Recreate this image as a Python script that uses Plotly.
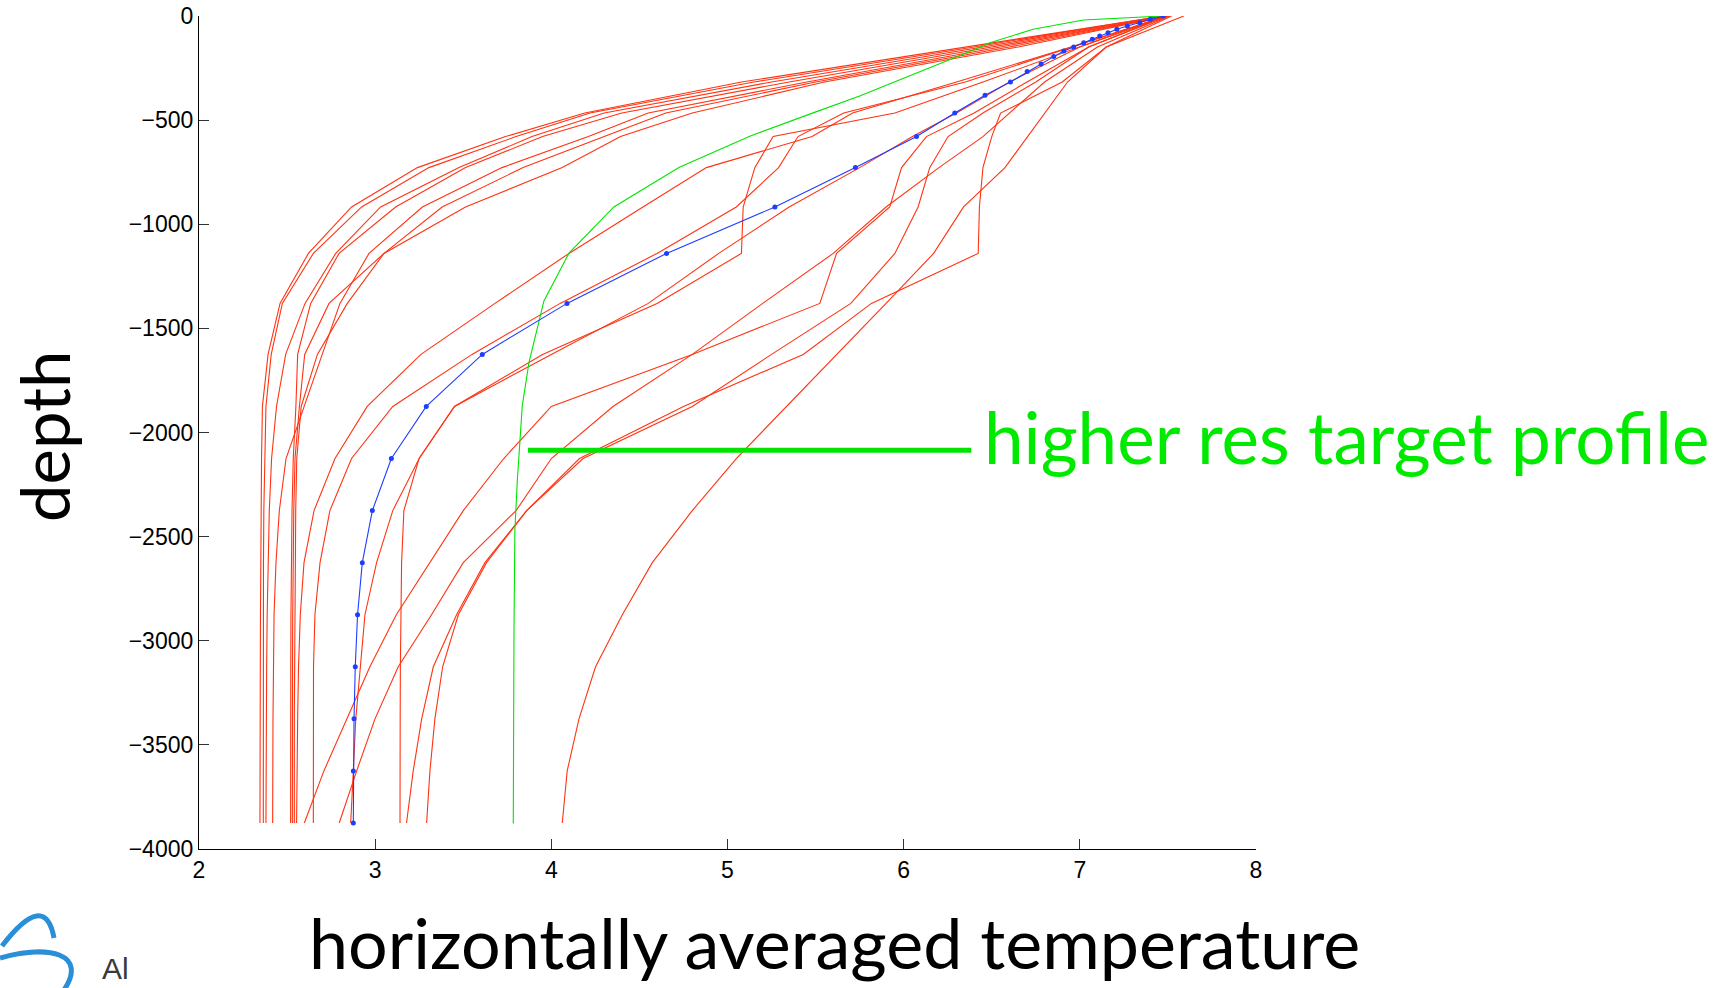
import plotly.graph_objects as go

# ---------------- data ----------------
# depth levels (m) on which the coarse (red) profiles are read
red_depths = [0, -149, -317, -466, -579, -728, -917, -1140, -1380, -1625,
              -1875, -2125, -2375, -2625, -2875, -3125, -3375, -3625, -3875]

# cold profiles (top cluster, ending far left)
red_a1 = [7.48, 6.35, 5.08, 4.19, 3.74, 3.24, 2.866, 2.621, 2.460, 2.392, 2.360, 2.355, 2.352, 2.350, 2.349, 2.348, 2.347, 2.346, 2.346]
red_a2 = [7.47, 6.40, 5.15, 4.22, 3.80, 3.305, 2.923, 2.649, 2.473, 2.410, 2.380, 2.372, 2.368, 2.366, 2.366, 2.365, 2.365, 2.365, 2.365]
red_a3 = [7.48, 6.45, 5.25, 4.30, 3.89, 3.476, 3.031, 2.776, 2.602, 2.492, 2.440, 2.412, 2.399, 2.392, 2.387, 2.384, 2.382, 2.381, 2.380]
red_a4 = [7.49, 6.55, 5.45, 4.55, 4.21, 3.72, 3.268, 2.965, 2.800, 2.700, 2.600, 2.494, 2.456, 2.437, 2.426, 2.422, 2.420, 2.419, 2.418]
red_a5 = [7.49, 6.50, 5.35, 4.40, 3.95, 3.513, 3.116, 2.795, 2.634, 2.560, 2.550, 2.535, 2.528, 2.524, 2.522, 2.521, 2.520, 2.520, 2.520]
red_a6 = [7.50, 6.60, 5.50, 4.65, 4.30, 3.84, 3.38, 3.050, 2.738, 2.600, 2.570, 2.545, 2.538, 2.534, 2.532, 2.531, 2.530, 2.530, 2.530]
red_a7 = [7.50, 6.65, 5.55, 4.80, 4.393, 4.062, 3.513, 3.050, 2.842, 2.672, 2.580, 2.555, 2.549, 2.546, 2.544, 2.542, 2.541, 2.541, 2.541]
# mid / warm profiles
red_b1 = [7.50, 6.95, 6.30, 5.71, 5.48, 4.88, 4.52, 4.10, 3.68, 3.26, 2.955, 2.772, 2.653, 2.596, 2.575, 2.565, 2.560, 2.556, 2.554]
red_b2 = [7.49, 6.95, 6.35, 5.66, 5.40, 5.29, 5.05, 4.60, 4.05, 3.55, 3.10, 2.866, 2.743, 2.687, 2.658, 2.650, 2.649, 2.649, 2.649]
red_b3 = [7.48, 7.00, 6.45, 5.95, 5.259, 5.155, 5.089, 5.079, 4.60, 3.95, 3.45, 3.249, 3.163, 3.150, 3.145, 3.143, 3.142, 3.141, 3.141]
red_b4 = [7.49, 7.05, 6.70, 6.40, 6.129, 5.988, 5.921, 5.619, 5.524, 4.80, 4.00, 3.73, 3.50, 3.31, 3.12, 2.97, 2.838, 2.709, 2.598]
red_b5 = [7.50, 7.00, 6.60, 6.30, 6.05, 5.75, 5.35, 4.95, 4.55, 4.00, 3.45, 3.25, 3.10, 3.008, 2.942, 2.914, 2.890, 2.876, 2.861]
red_b6 = [7.51, 7.10, 6.80, 6.60, 6.45, 6.20, 5.90, 5.60, 5.20, 4.80, 4.35, 4.00, 3.80, 3.50, 3.32, 3.131, 2.999, 2.895, 2.796]
red_b7 = [7.50, 7.05, 6.75, 6.45, 6.252, 6.148, 6.082, 5.95, 5.70, 5.25, 4.80, 4.18, 3.86, 3.623, 3.462, 3.330, 3.264, 3.216, 3.178]
red_b8 = [7.52, 7.15, 6.90, 6.55, 6.50, 6.45, 6.43, 6.423, 5.817, 5.43, 4.75, 4.16, 3.86, 3.632, 3.472, 3.383, 3.339, 3.311, 3.292]
red_b9 = [7.59, 7.15, 6.93, 6.80, 6.70, 6.575, 6.34, 6.17, 5.90, 5.62, 5.33, 5.05, 4.80, 4.573, 4.403, 4.251, 4.157, 4.09, 4.062]

red_profiles = [red_a1, red_a2, red_a3, red_a4, red_a5, red_a6, red_a7,
                red_b1, red_b2, red_b3, red_b4, red_b5, red_b6, red_b7, red_b8, red_b9]

# blue (averaged) profile with markers
blue_depths = [0, -16, -32, -48, -64, -80, -96, -112, -128, -149, -168, -195, -230, -267,
               -317, -381, -466, -579, -728, -917, -1140, -1380, -1625, -1875, -2125,
               -2375, -2625, -2875, -3125, -3375, -3625, -3875]
blue_temps = [7.473, 7.40, 7.34, 7.27, 7.21, 7.16, 7.113, 7.071, 7.022, 6.965, 6.909, 6.852,
              6.780, 6.701, 6.606, 6.462, 6.290, 6.073, 5.726, 5.269, 4.654, 4.089, 3.608,
              3.290, 3.092, 2.984, 2.927, 2.900, 2.887, 2.880, 2.876, 2.876]

# green (higher res target) profile
green_depths = [0, -19, -64, -128, -190, -384, -464, -576, -728, -917, -1139, -1368,
                -1664, -1872, -2229, -2469, -2949, -3877]
green_temps = [7.473, 7.02, 6.735, 6.49, 6.32, 5.75, 5.49, 5.13, 4.724, 4.355, 4.10, 3.958,
               3.873, 3.835, 3.807, 3.793, 3.788, 3.784]

x_ticks = [2, 3, 4, 5, 6, 7, 8]
y_ticks = [0, -500, -1000, -1500, -2000, -2500, -3000, -3500, -4000]

x_title = "horizontally averaged temperature"
y_title = "depth"
callout_text = "higher res target profile"
logo_text = "Al"

# ---------------- styles / layout ----------------
W, H = 1726, 988
PLOT_L, PLOT_R, PLOT_T, PLOT_B = 199, 1256, 16, 849

RED = "#ff3312"
BLUE = "#1f3dff"
GREEN = "#00e400"
TEXT_GREEN = "#00ea00"
LOGO_BLUE = "#2b8fd8"
TITLE_FONT = "Lato"


def px(x):
    """page pixel x -> paper x"""
    return (x - PLOT_L) / (PLOT_R - PLOT_L)


def py(y):
    """page pixel y -> paper y"""
    return (PLOT_B - y) / (PLOT_B - PLOT_T)


fig = go.Figure()

for prof in red_profiles:
    fig.add_trace(go.Scatter(x=prof, y=red_depths, mode="lines",
                             line=dict(color=RED, width=1.1), hoverinfo="skip",
                             showlegend=False))

fig.add_trace(go.Scatter(x=green_temps, y=green_depths, mode="lines",
                         line=dict(color=GREEN, width=1.1), showlegend=False))

fig.add_trace(go.Scatter(x=blue_temps, y=blue_depths, mode="lines+markers",
                         line=dict(color=BLUE, width=1.1),
                         marker=dict(color=BLUE, size=5), showlegend=False))

# callout line (data coords) and text
callout_x0, callout_x1, callout_y = 3.867, 6.384, -2085
fig.add_shape(type="line", x0=callout_x0, x1=callout_x1, y0=callout_y, y1=callout_y,
              xref="x", yref="y", line=dict(color=GREEN, width=5))
fig.add_annotation(text=callout_text, xref="paper", yref="paper", x=px(982), y=py(436),
                   xanchor="left", yanchor="middle", showarrow=False,
                   font=dict(family=TITLE_FONT, size=71, color=TEXT_GREEN))

fig.add_annotation(text=x_title, xref="paper", yref="paper", x=px(834), y=py(942),
                   xanchor="center", yanchor="middle", showarrow=False,
                   font=dict(family=TITLE_FONT, size=70, color="black"))
fig.add_annotation(text=y_title, xref="paper", yref="paper", x=px(44), y=py(437),
                   xanchor="center", yanchor="middle", showarrow=False, textangle=-90,
                   font=dict(family=TITLE_FONT, size=67, color="black"))

# partial logo in the bottom-left corner
logo_arc1 = [(2, 946), (45, 890), (54, 938)]
logo_arc2 = [(0, 958), (50, 944), (88, 954), (64, 990)]
fig.add_shape(type="path", xref="paper", yref="paper",
              path=f"M {px(logo_arc1[0][0])} {py(logo_arc1[0][1])} "
                   f"Q {px(logo_arc1[1][0])} {py(logo_arc1[1][1])} "
                   f"{px(logo_arc1[2][0])} {py(logo_arc1[2][1])}",
              line=dict(color=LOGO_BLUE, width=5))
fig.add_shape(type="path", xref="paper", yref="paper",
              path=f"M {px(logo_arc2[0][0])} {py(logo_arc2[0][1])} "
                   f"C {px(logo_arc2[1][0])} {py(logo_arc2[1][1])}, "
                   f"{px(logo_arc2[2][0])} {py(logo_arc2[2][1])}, "
                   f"{px(logo_arc2[3][0])} {py(logo_arc2[3][1])}",
              line=dict(color=LOGO_BLUE, width=5))
fig.add_annotation(text=logo_text, xref="paper", yref="paper", x=px(100), y=py(987),
                   xanchor="left", yanchor="bottom", showarrow=False,
                   font=dict(family="Liberation Sans, Arial", size=30, color="#3a3a3a"))

axis_common = dict(showgrid=False, zeroline=False, showline=True, linecolor="black",
                   linewidth=1.2, ticks="inside", ticklen=10, tickcolor="#333333",
                   tickwidth=1, mirror=False, automargin=False,
                   tickfont=dict(family="Liberation Sans, Arial", size=23, color="black"))

fig.update_layout(
    width=W, height=H, autosize=False,
    margin=dict(l=PLOT_L, r=W - PLOT_R, t=PLOT_T, b=H - PLOT_B, autoexpand=False),
    paper_bgcolor="white", plot_bgcolor="white",
    xaxis=dict(range=[2, 8], tickvals=x_ticks, **axis_common),
    yaxis=dict(range=[-4000, 0], tickvals=y_ticks, **axis_common),
    showlegend=False,
)

fig.write_html("out.html")
